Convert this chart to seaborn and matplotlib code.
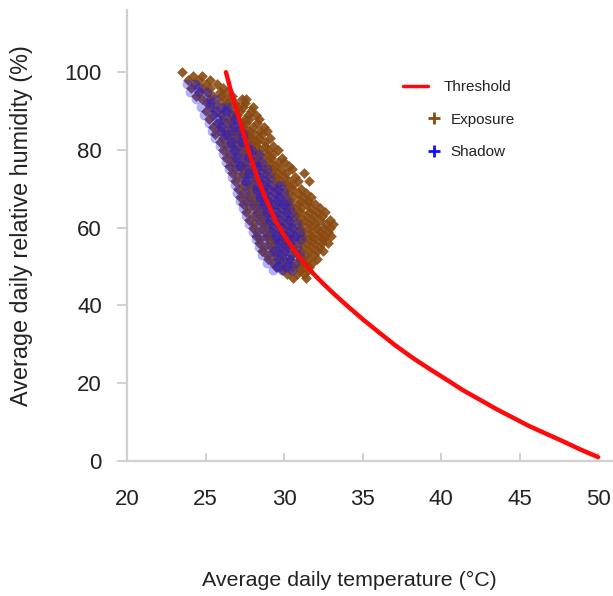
import matplotlib
matplotlib.use("Agg")
import numpy as np
import matplotlib.pyplot as plt
from matplotlib.lines import Line2D
from matplotlib.legend_handler import HandlerLine2D
import pandas as pd
import seaborn as sns

# Threshold curve (temperature °C, relative humidity %)
threshold_temp = [26.3, 26.6, 27.0, 27.4, 27.8, 28.3, 28.9, 29.5, 30.2, 30.9,
                  31.6, 32.4, 33.2, 34.0, 35.0, 36.1, 37.1, 38.2, 39.3, 40.4,
                  41.4, 42.5, 43.5, 44.6, 45.6, 46.7, 47.8, 48.85, 50.0]
threshold_rh = [100.0, 95.5, 90.0, 84.5, 79.0, 73.0, 66.8, 61.5, 56.8, 52.8,
                49.3, 46.0, 42.9, 40.0, 36.5, 32.9, 29.7, 26.5, 23.6, 20.8,
                18.2, 15.7, 13.4, 11.1, 9.0, 7.0, 5.0, 3.0, 1.0]

# Exposure readings: one humidity level per row, temperatures observed at it
exposure_rh = list(range(100, 46, -1))
exposure_temp_rows = [
    [23.5],
    [24.2, 24.8],
    [23.9, 24.6, 25.3],
    [24.3, 25.0, 25.7],
    [24.1, 24.8, 25.3, 26.1],
    [24.6, 25.1, 25.9, 26.4],
    [24.4, 25.5, 26.0, 26.7],
    [24.8, 25.3, 26.2, 26.6, 27.3, 27.6],
    [25.1, 25.7, 26.4, 26.9, 27.5],
    [25.4, 26.1, 26.5, 27.1, 27.4, 28.0],
    [25.0, 25.8, 26.3, 26.8, 27.2, 27.9],
    [25.5, 26.0, 26.7, 27.0, 27.7, 28.2],
    [25.2, 26.1, 26.5, 26.9, 27.5, 27.8, 28.4],
    [25.7, 26.3, 26.6, 27.3, 27.6, 28.3],
    [25.5, 25.9, 26.6, 27.1, 27.4, 28.0, 28.7],
    [25.9, 26.3, 26.9, 27.4, 27.8, 28.5, 28.9],
    [25.6, 26.4, 26.8, 27.1, 27.7, 28.1, 28.6],
    [26.1, 26.5, 27.0, 27.6, 27.9, 28.4, 29.1],
    [25.9, 26.6, 27.0, 27.3, 27.9, 28.3, 28.8],
    [26.3, 26.7, 27.3, 27.6, 28.2, 28.8, 29.3],
    [26.1, 26.9, 27.2, 27.8, 28.1, 28.5, 29.0, 29.6],
    [26.5, 27.0, 27.5, 27.8, 28.4, 28.9, 29.3],
    [26.3, 26.8, 27.4, 27.9, 28.3, 28.7, 29.2, 29.9],
    [26.7, 27.1, 27.6, 28.2, 28.5, 29.1, 29.6, 30.0],
    [26.5, 27.2, 27.5, 28.0, 28.6, 28.9, 29.4, 30.3],
    [26.9, 27.3, 27.9, 28.3, 28.7, 29.3, 29.8, 30.5],
    [26.7, 27.4, 27.7, 28.2, 28.8, 29.2, 29.6, 30.1, 31.3],
    [27.1, 27.6, 28.1, 28.4, 29.0, 29.5, 30.0, 30.7],
    [26.9, 27.5, 28.0, 28.5, 28.9, 29.4, 29.8, 30.3, 30.9, 31.6],
    [27.3, 27.8, 28.2, 28.8, 29.1, 29.7, 30.2, 30.6],
    [27.1, 27.7, 28.1, 28.6, 29.1, 29.5, 30.1, 30.5, 31.1],
    [27.4, 27.9, 28.4, 28.8, 29.4, 29.8, 30.3, 30.9, 31.4],
    [27.2, 27.8, 28.3, 28.7, 29.2, 29.7, 30.2, 30.6, 31.2, 31.7],
    [27.6, 28.1, 28.6, 29.0, 29.5, 30.0, 30.4, 31.0, 31.5],
    [27.4, 28.0, 28.5, 28.9, 29.3, 29.9, 30.3, 30.9, 31.4, 32.0],
    [27.8, 28.2, 28.8, 29.2, 29.7, 30.2, 30.7, 31.1, 31.7, 32.3],
    [27.6, 28.3, 28.6, 29.1, 29.6, 30.1, 30.6, 31.0, 31.6, 32.1, 32.6],
    [28.0, 28.5, 28.9, 29.4, 30.0, 30.4, 30.8, 31.4, 31.9, 32.4],
    [27.8, 28.4, 28.8, 29.3, 29.8, 30.3, 30.9, 31.3, 31.8, 32.3, 32.9],
    [28.1, 28.7, 29.1, 29.6, 30.1, 30.5, 31.1, 31.6, 32.0, 32.7, 33.1],
    [28.0, 28.6, 29.0, 29.5, 30.0, 30.6, 31.0, 31.5, 32.1, 32.5, 32.9],
    [28.3, 28.8, 29.3, 29.8, 30.3, 30.8, 31.3, 31.8, 32.3, 32.8],
    [28.2, 28.9, 29.2, 29.7, 30.2, 30.7, 31.2, 31.7, 32.2, 32.6, 33.0],
    [28.5, 29.0, 29.5, 30.0, 30.5, 31.0, 31.5, 32.0, 32.5],
    [28.4, 29.1, 29.4, 29.9, 30.4, 30.9, 31.4, 31.9, 32.4, 32.8],
    [28.7, 29.2, 29.8, 30.2, 30.6, 31.2, 31.7, 32.2],
    [28.6, 29.3, 29.6, 30.1, 30.7, 31.1, 31.6, 32.1, 32.5],
    [28.9, 29.4, 29.9, 30.5, 30.9, 31.4, 31.9],
    [29.0, 29.7, 30.0, 30.4, 31.0, 31.5, 32.1],
    [29.3, 29.8, 30.3, 30.8, 31.3, 31.8],
    [29.5, 30.0, 30.6, 31.0, 31.6],
    [29.9, 30.4, 31.0, 31.5],
    [30.2, 30.8, 31.3],
    [30.6, 31.4],
]

# Shadow readings, same layout
shadow_rh = [97, 96, 95, 93, 92, 91, 90, 89, 88, 87, 86, 85, 84, 83, 82, 81,
             80, 79, 78, 77, 76, 75, 74, 73, 72, 71, 70, 69, 68, 67, 66, 65,
             64, 63, 62, 61, 60, 59, 58, 57, 56, 55, 54, 53, 52, 51, 50, 49]
shadow_temp_rows = [
    [23.8, 24.3],
    [24.5],
    [24.0, 24.6, 25.1],
    [24.4, 25.0, 25.6],
    [25.3],
    [24.7, 25.3, 25.9, 26.4],
    [25.6, 26.3],
    [24.9, 25.5, 26.1, 26.7],
    [25.8, 26.9],
    [25.2, 25.8, 26.4, 27.0],
    [26.0, 26.8],
    [25.4, 26.0, 26.6, 27.2],
    [26.3, 27.4],
    [25.6, 26.2, 26.8, 27.4],
    [26.6, 27.3],
    [25.9, 26.5, 27.1, 27.7],
    [26.8, 27.9],
    [26.1, 26.7, 27.3, 27.9, 28.4],
    [27.0, 27.8],
    [26.3, 26.9, 27.5, 28.1, 28.6],
    [27.2, 28.3],
    [26.5, 27.1, 27.7, 28.3, 28.9],
    [27.8, 28.6],
    [26.7, 27.3, 27.9, 28.5, 29.1],
    [27.6, 28.8],
    [26.9, 27.5, 28.1, 28.7, 29.3, 29.8],
    [28.3, 29.0, 29.6],
    [27.0, 27.6, 28.2, 28.8, 29.4, 30.0],
    [28.5, 29.1, 29.7],
    [27.2, 27.8, 28.4, 29.0, 29.6, 30.2],
    [28.7, 29.4, 30.0],
    [27.4, 28.0, 28.6, 29.2, 29.8, 30.4],
    [28.9, 29.5, 30.1],
    [27.6, 28.2, 28.8, 29.4, 30.0, 30.6],
    [29.1, 29.7, 30.3],
    [27.8, 28.4, 29.0, 29.6, 30.2, 30.8],
    [29.3, 29.9, 30.5],
    [28.0, 28.6, 29.2, 29.8, 30.4, 31.0],
    [29.5, 30.1, 30.7],
    [28.2, 28.8, 29.4, 30.0, 30.6, 31.1],
    [29.7, 30.3],
    [28.4, 29.0, 29.6, 30.2, 30.8],
    [29.4, 30.0],
    [28.6, 29.2, 29.8, 30.4, 31.0],
    [29.7, 30.3],
    [28.9, 29.5, 30.1, 30.7],
    [29.6, 30.2],
    [29.3, 29.9, 30.5],
]

x_ticks = [20, 25, 30, 35, 40, 45, 50]
y_ticks = [0, 20, 40, 60, 80, 100]


def rows_to_frame(levels, rows):
    recs = [(t, rh) for rh, temps in zip(levels, rows) for t in temps]
    return pd.DataFrame(recs, columns=["temp", "rh"])


class ShiftedMarkerHandler(HandlerLine2D):
    """Draw the legend marker just past the right end of the handle box."""

    def create_artists(self, legend, orig_handle, xdescent, ydescent,
                       width, height, fontsize, trans):
        artists = super().create_artists(legend, orig_handle, xdescent,
                                         ydescent, width, height, fontsize,
                                         trans)
        for a in artists:
            a.set_xdata(np.asarray(a.get_xdata(), dtype=float) + width * 0.5 + 4)
        return artists


exposure = rows_to_frame(exposure_rh, exposure_temp_rows)
shadow = rows_to_frame(shadow_rh, shadow_temp_rows)
threshold = pd.DataFrame({"temp": threshold_temp, "rh": threshold_rh})

sns.set_theme(style="white")
plt.rcParams["font.family"] = ["Liberation Sans", "DejaVu Sans"]

BROWN = "#8a4a10"
BLUE = "#1010ff"
RED = "#ff0a0a"
AXIS_GREY = "#d0d0d0"
TEXT = "#222222"

fig = plt.figure(figsize=(6.13, 5.96), dpi=100)
ax = fig.add_axes([127 / 613, 135 / 596, 486 / 613, 451 / 596])

sns.scatterplot(data=exposure, x="temp", y="rh", ax=ax, color=BROWN,
                marker="D", s=30, linewidth=0, alpha=0.9, legend=False, zorder=2)
sns.scatterplot(data=shadow, x="temp", y="rh", ax=ax, color=BLUE,
                marker="o", s=50, linewidth=0, alpha=0.33, legend=False, zorder=3)
sns.lineplot(data=threshold, x="temp", y="rh", ax=ax, color=RED, lw=3.2,
             sort=False, estimator=None, legend=False, zorder=4)

ax.set_xlim(20, 50.95)
ax.set_ylim(0, 116)
ax.set_xticks(x_ticks)
ax.set_yticks(y_ticks)
ax.set_xlabel("")
ax.set_ylabel("")

for side in ("top", "right"):
    ax.spines[side].set_visible(False)
for side in ("left", "bottom"):
    ax.spines[side].set_color(AXIS_GREY)
    ax.spines[side].set_linewidth(1.6)

ax.tick_params(axis="x", direction="in", length=6, width=1.4, color=AXIS_GREY,
               pad=20, labelsize=16, labelcolor=TEXT, bottom=True)
ax.tick_params(axis="y", direction="out", length=7, width=1.4, color=AXIS_GREY,
               pad=11, labelsize=16, labelcolor=TEXT, left=True)

fig.text(22 / 613, 1 - 226 / 596, "Average daily relative humidity (%)",
         rotation=90, ha="center", va="center", fontsize=16.8, color=TEXT)
fig.text(349 / 613, 1 - 580 / 596, "Average daily temperature (°C)",
         ha="center", va="center", fontsize=15.4, color=TEXT)

threshold_handle = Line2D([], [], color=RED, lw=2.5, label="Threshold")
exposure_handle = Line2D([], [], color=BROWN, marker="+", ls="none",
                         markersize=8, markeredgewidth=2, label="Exposure")
shadow_handle = Line2D([], [], color=BLUE, marker="+", ls="none",
                       markersize=8, markeredgewidth=2, label="Shadow")
leg = ax.legend(handles=[threshold_handle, exposure_handle, shadow_handle],
                handler_map={exposure_handle: ShiftedMarkerHandler(),
                             shadow_handle: ShiftedMarkerHandler()},
                loc="upper left",
                bbox_to_anchor=((403 - 127) / 486, 1 - (80 - 10) / 451),
                frameon=False, fontsize=11, handlelength=1.65,
                handletextpad=1.0, labelspacing=1.22, borderaxespad=0,
                borderpad=0)
for t in leg.get_texts():
    t.set_color(TEXT)
for t in leg.get_texts()[1:]:
    t.set_x(7)

fig.savefig("out.png", dpi=100)
